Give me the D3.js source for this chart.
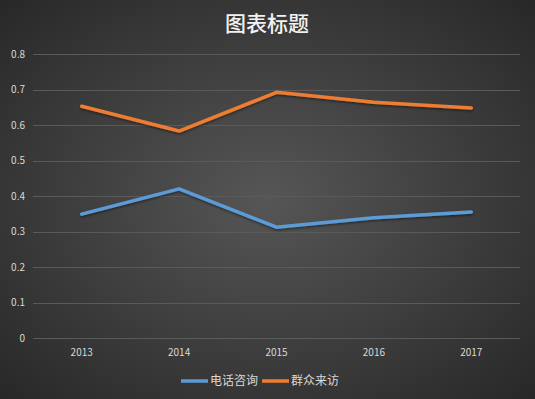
<!DOCTYPE html>
<html>
<head>
<meta charset="utf-8">
<script src="https://cdn.jsdelivr.net/npm/d3@7"></script>
<style>
  body { margin: 0; background: #333; }
  svg { display: block; }
</style>
</head>
<body>
<div id="chart"></div>
<script>
// data
var years = ["2013", "2014", "2015", "2016", "2017"];
var seriesNames = ["电话咨询", "群众来访"];
var phoneVals = [0.349, 0.42, 0.312, 0.339, 0.355];
var visitVals = [0.653, 0.583, 0.692, 0.664, 0.648];
var yTicks = [0, 0.1, 0.2, 0.3, 0.4, 0.5, 0.6, 0.7, 0.8];
var colors = ["#5B9BD5", "#ED7D31"];

var width = 535;
var height = 399;
var font = "'Noto Sans CJK SC', 'Open Sans', sans-serif";

var svg = d3.select("#chart")
    .append("svg")
    .attr("width", width)
    .attr("height", height);

var defs = svg.append("defs");
var grad = defs.append("radialGradient")
    .attr("id", "bg")
    .attr("cx", "50%").attr("cy", "50%").attr("r", "70%");
grad.append("stop").attr("offset", "0%").attr("stop-color", "#565656");
grad.append("stop").attr("offset", "100%").attr("stop-color", "#282828");

var shadow = defs.append("filter").attr("id", "shadow")
    .attr("x", "-10%").attr("y", "-10%").attr("width", "120%").attr("height", "140%");
shadow.append("feDropShadow")
    .attr("dx", 0).attr("dy", 1.5).attr("stdDeviation", 1.2)
    .attr("flood-color", "#000").attr("flood-opacity", 0.45);

svg.append("rect")
    .attr("width", width)
    .attr("height", height)
    .attr("fill", "url(#bg)");

// title
svg.append("text")
    .attr("x", 267)
    .attr("y", 31)
    .attr("text-anchor", "middle")
    .attr("font-family", font)
    .attr("font-size", "21px")
    .attr("font-weight", 500)
    .attr("fill", "#f2f2f2")
    .text("图表标题");

// scales
var x = d3.scaleBand()
    .domain(years)
    .range([33, 520]);

var y = d3.scaleLinear()
    .domain([0, 0.8])
    .range([338, 54]);

// grid
svg.selectAll(".grid")
    .data(yTicks)
    .enter()
    .append("line")
    .attr("class", "grid")
    .attr("x1", 33)
    .attr("x2", 520)
    .attr("y1", function (d) { return Math.round(y(d)) + 0.5; })
    .attr("y2", function (d) { return Math.round(y(d)) + 0.5; })
    .style("stroke", "#5a5a5a")
    .style("stroke-width", "1px");

// y labels
svg.selectAll(".ylabel")
    .data(yTicks)
    .enter()
    .append("text")
    .attr("class", "ylabel")
    .attr("x", 25)
    .attr("y", function (d) { return y(d); })
    .attr("dy", "0.35em")
    .attr("text-anchor", "end")
    .attr("font-family", font)
    .attr("font-size", "10px")
    .attr("fill", "#d9d9d9")
    .text(function (d) { return d3.format("")(d); });

// x labels
svg.selectAll(".xlabel")
    .data(years)
    .enter()
    .append("text")
    .attr("class", "xlabel")
    .attr("x", function (d) { return x(d) + x.bandwidth() / 2; })
    .attr("y", 356)
    .attr("text-anchor", "middle")
    .attr("font-family", font)
    .attr("font-size", "10px")
    .attr("fill", "#d9d9d9")
    .text(function (d) { return d; });

// lines
var line = d3.line()
    .x(function (d, i) { return x(years[i]) + x.bandwidth() / 2; })
    .y(function (d) { return y(d); });

[phoneVals, visitVals].forEach(function (vals, k) {
    svg.append("path")
        .datum(vals)
        .attr("d", line)
        .attr("fill", "none")
        .attr("stroke", colors[k])
        .attr("stroke-width", 3.5)
        .attr("stroke-linejoin", "round")
        .attr("stroke-linecap", "round")
        .attr("filter", "url(#shadow)");
});

// legend
var legendX = [181, 262];
seriesNames.forEach(function (name, k) {
    svg.append("line")
        .attr("x1", legendX[k])
        .attr("x2", legendX[k] + 27)
        .attr("y1", 381)
        .attr("y2", 381)
        .attr("stroke", colors[k])
        .attr("stroke-width", 3.5);
    svg.append("text")
        .attr("x", legendX[k] + 29)
        .attr("y", 381)
        .attr("dy", "0.35em")
        .attr("font-family", font)
        .attr("font-size", "12px")
        .attr("fill", "#d9d9d9")
        .text(name);
});
</script>
</body>
</html>
